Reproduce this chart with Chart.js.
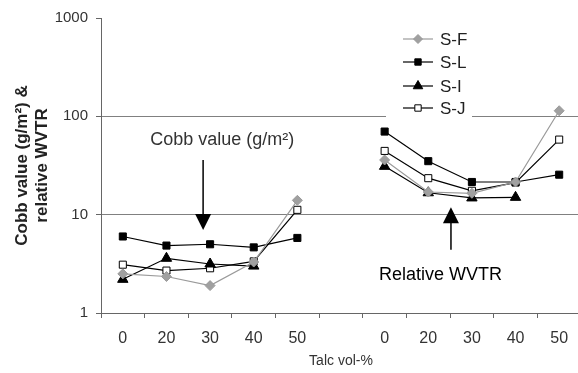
<!DOCTYPE html>
<html lang="en">
<head>
  <meta charset="UTF-8" />
  <script src="https://cdn.jsdelivr.net/npm/chart.js@4.4.0/dist/chart.umd.min.js"></script>
  <style>
    html, body { margin: 0; padding: 0; background: #fff; overflow: hidden; }
    #wrap { width: 588px; height: 373px; }
  </style>
</head>
<body>
  <div id="wrap"><canvas id="chart" width="588" height="373"></canvas></div>
  <script>
    // categories: left group = Cobb value, right group = relative WVTR (blank slot between)
    const labels = ['0', '20', '30', '40', '50', '', '0', '20', '30', '40', '50'];
    const yTicks = [1, 10, 100, 1000];

    // values
    const sF = [2.5, 2.35, 1.9, 3.3, 14, null, 36, 17, 16.5, 21.5, 114];
    const sL = [6.0, 4.85, 5.0, 4.65, 5.8, null, 70, 35, 21.5, 21.5, 25.5];
    const sI = [2.2, 3.6, 3.15, 3.0, null, null, 31, 16.7, 14.8, 15, null];
    const sJ = [3.1, 2.7, 2.85, 3.35, 11.2, null, 44.5, 23.5, 17.5, 21.2, 58];

    const FONT = "'Liberation Sans', Arial, sans-serif";
    Chart.defaults.font.family = FONT;
    Chart.defaults.color = '#333';

    function ds(label, data, color, style, fill, radius) {
      return {
        label: label,
        data: data,
        borderColor: color,
        borderWidth: 1.2,
        pointStyle: style,
        pointRadius: radius,
        pointBackgroundColor: fill,
        pointBorderColor: color,
        pointBorderWidth: 1,
        spanGaps: false,
        tension: 0
      };
    }

    const datasets = [
      ds('S-F', sF, '#9a9a9a', 'rectRot', '#a0a0a0', 5),
      ds('S-L', sL, '#000', 'rect', '#000', 5),
      ds('S-I', sI, '#000', 'triangle', '#000', 6),
      ds('S-J', sJ, '#000', 'rect', '#fff', 5)
    ];

    function arrow(ctx, x, y1, y2) {
      // shaft from y1 to the tip at y2, filled head at the tip
      const dir = y2 > y1 ? 1 : -1;
      ctx.beginPath();
      ctx.moveTo(x, y1);
      ctx.lineTo(x, y2 - dir * 14);
      ctx.lineWidth = 1.5;
      ctx.strokeStyle = '#000';
      ctx.stroke();
      ctx.beginPath();
      ctx.moveTo(x - 8, y2 - dir * 16);
      ctx.lineTo(x + 8, y2 - dir * 16);
      ctx.lineTo(x, y2);
      ctx.closePath();
      ctx.fillStyle = '#000';
      ctx.fill();
    }

    const notes = {
      id: 'notes',
      afterDraw(chart) {
        const ctx = chart.ctx;
        const x = chart.scales.x, y = chart.scales.y;
        ctx.save();
        ctx.font = '18px ' + FONT;
        ctx.fillStyle = '#333';
        ctx.textAlign = 'center';
        ctx.textBaseline = 'middle';
        // Cobb value note
        ctx.fillText('Cobb value (g/m\u00b2)', x.getPixelForValue(2.28), y.getPixelForValue(58));
        arrow(ctx, x.getPixelForValue(1.84), y.getPixelForValue(36), y.getPixelForValue(7.0));
        // Relative WVTR note
        ctx.fillText('Relative WVTR', x.getPixelForValue(7.28), y.getPixelForValue(2.45));
        arrow(ctx, x.getPixelForValue(7.52), y.getPixelForValue(4.4), y.getPixelForValue(11.9));

        // legend: line + marker + label
        ctx.fillStyle = '#fff';
        ctx.fillRect(386, 22, 86, 100);
        const rows = [39, 62, 86, 108];
        datasets.forEach(function (d, i) {
          const ly = rows[i];
          ctx.beginPath();
          ctx.moveTo(403, ly);
          ctx.lineTo(433, ly);
          ctx.lineWidth = 1.2;
          ctx.strokeStyle = d.borderColor;
          ctx.stroke();
          ctx.fillStyle = d.pointBackgroundColor;
          ctx.strokeStyle = d.pointBorderColor;
          ctx.lineWidth = 1;
          Chart.helpers.drawPoint(ctx, {
            pointStyle: d.pointStyle, radius: d.pointRadius - 0.5, rotation: 0, borderWidth: 1
          }, 418, ly);
          ctx.fillStyle = '#222';
          ctx.textAlign = 'left';
          ctx.font = '17px ' + FONT;
          ctx.fillText(d.label, 440, ly + 1);
        });
        ctx.restore();
      }
    };

    new Chart(document.getElementById('chart'), {
      type: 'line',
      data: { labels: labels, datasets: datasets },
      plugins: [notes],
      options: {
        responsive: false,
        animation: false,
        layout: { padding: { top: 18, right: 0, left: 0, bottom: 0 } },
        plugins: { legend: { display: false }, tooltip: { enabled: false } },
        scales: {
          x: {
            type: 'category',
            offset: true,
            grid: { display: true, drawOnChartArea: false, offset: true, tickLength: 5, color: '#666' },
            border: { color: '#666', width: 1 },
            ticks: { font: { size: 16 }, color: '#333', padding: 11, maxRotation: 0, autoSkip: false },
            title: { display: true, text: 'Talc vol-%', font: { size: 14 }, color: '#333', padding: { top: 2, bottom: 3 } },
            afterFit(s) { s.height = 60; }
          },
          y: {
            type: 'logarithmic',
            min: 1,
            max: 1000,
            afterBuildTicks(s) { s.ticks = yTicks.map(v => ({ value: v })); },
            grid: {
              // no gridline across the top at 1000, only its tick mark
              color: c => (c.tick && c.tick.value === 1000 ? 'rgba(0,0,0,0)' : '#808080'),
              tickColor: '#666',
              tickLength: 5,
              lineWidth: 1
            },
            border: { color: '#666', width: 1 },
            ticks: { font: { size: 15 }, color: '#333', padding: 8, callback: v => String(v) },
            title: {
              display: true,
              text: ['Cobb value (g/m\u00b2) &', 'relative WVTR'],
              font: { size: 17, weight: 'bold', lineHeight: 1.18 },
              color: '#222',
              padding: { top: 12, bottom: 4 }
            },
            afterFit(s) { s.width = 101; }
          }
        }
      }
    });
  </script>
</body>
</html>
